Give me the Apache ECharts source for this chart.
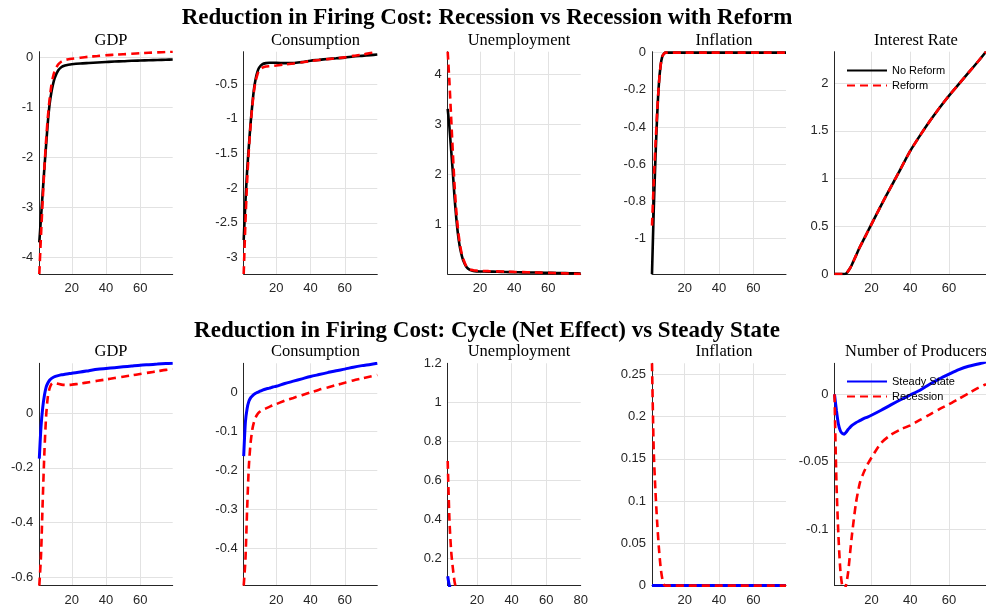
<!DOCTYPE html>
<html>
<head>
<meta charset="utf-8">
<script src="https://cdn.jsdelivr.net/npm/echarts@6/dist/echarts.min.js"></script>
<style>
  html, body { margin: 0; padding: 0; background: #fff; }
  #chart { width: 986px; height: 613px; }
</style>
</head>
<body>
<div id="chart"></div>
<script>
// quarters after the shock
const t = [1, 2, 3, 4, 5, 6, 7, 8, 9, 10, 12, 14, 16, 18, 20, 25, 30, 35, 40, 45, 50, 55, 60, 65, 70, 75, 79];

// top row: recession vs recession with reform
const gdpNoReform = [-3.70, -3.20, -2.70, -2.20, -1.75, -1.30, -0.95, -0.72, -0.55, -0.42, -0.27, -0.20, -0.17, -0.155, -0.145, -0.13, -0.12, -0.11, -0.10, -0.09, -0.085, -0.075, -0.07, -0.065, -0.06, -0.055, -0.05];
const gdpReform = [-4.33, -3.55, -2.85, -2.20, -1.65, -1.20, -0.85, -0.58, -0.40, -0.28, -0.15, -0.09, -0.06, -0.045, -0.035, -0.015, 0.005, 0.02, 0.035, 0.045, 0.055, 0.065, 0.075, 0.085, 0.092, 0.10, 0.106];
const consNoReform = [-2.75, -2.20, -1.75, -1.40, -1.07, -0.80, -0.57, -0.42, -0.32, -0.26, -0.21, -0.195, -0.19, -0.19, -0.19, -0.195, -0.195, -0.18, -0.16, -0.148, -0.135, -0.125, -0.115, -0.10, -0.09, -0.08, -0.07];
const consReform = [-3.24, -2.50, -1.90, -1.45, -1.10, -0.82, -0.60, -0.45, -0.36, -0.30, -0.26, -0.245, -0.24, -0.235, -0.23, -0.215, -0.20, -0.183, -0.165, -0.15, -0.137, -0.125, -0.112, -0.09, -0.072, -0.05, -0.034];
const unempNoReform = [3.31, 2.95, 2.50, 2.05, 1.55, 1.15, 0.82, 0.58, 0.42, 0.30, 0.16, 0.10, 0.08, 0.072, 0.07, 0.068, 0.065, 0.06, 0.056, 0.052, 0.05, 0.047, 0.044, 0.04, 0.037, 0.034, 0.03];
const unempReform = [4.45, 3.85, 3.15, 2.45, 1.80, 1.30, 0.92, 0.65, 0.46, 0.33, 0.17, 0.11, 0.095, 0.088, 0.083, 0.077, 0.072, 0.067, 0.062, 0.057, 0.052, 0.047, 0.042, 0.037, 0.032, 0.026, 0.02];
const inflNoReform = [-1.19, -0.85, -0.57, -0.34, -0.17, -0.07, -0.02, -0.005, 0, 0, 0, 0, 0, 0, 0, 0, 0, 0, 0, 0, 0, 0, 0, 0, 0, 0, 0];
const inflReform = [-0.93, -0.70, -0.50, -0.32, -0.17, -0.07, -0.02, -0.005, 0, 0, 0, 0, 0, 0, 0, 0, 0, 0, 0, 0, 0, 0, 0, 0, 0, 0, 0];
const rateNoReform = [0, 0, 0, 0, 0, 0, 0.005, 0.03, 0.06, 0.10, 0.19, 0.28, 0.36, 0.44, 0.52, 0.72, 0.91, 1.10, 1.29, 1.45, 1.60, 1.74, 1.87, 1.99, 2.11, 2.23, 2.33];
const rateReform = [0, 0, 0, 0, 0, 0, 0.005, 0.03, 0.06, 0.10, 0.19, 0.28, 0.36, 0.44, 0.52, 0.72, 0.91, 1.10, 1.29, 1.45, 1.60, 1.74, 1.87, 1.99, 2.11, 2.23, 2.33];

// bottom row: cycle (net effect) vs steady state
const gdpSteady = [-0.166, -0.05, 0.02, 0.065, 0.095, 0.11, 0.12, 0.126, 0.13, 0.133, 0.137, 0.14, 0.142, 0.144, 0.146, 0.15, 0.155, 0.16, 0.163, 0.166, 0.169, 0.172, 0.175, 0.177, 0.179, 0.181, 0.182];
const gdpRecession = [-0.63, -0.52, -0.32, -0.14, -0.01, 0.06, 0.09, 0.105, 0.11, 0.11, 0.107, 0.104, 0.103, 0.103, 0.104, 0.108, 0.113, 0.118, 0.123, 0.128, 0.133, 0.138, 0.143, 0.148, 0.153, 0.158, 0.161];
const consSteady = [-0.163, -0.075, -0.04, -0.022, -0.013, -0.008, -0.004, -0.001, 0.001, 0.003, 0.007, 0.01, 0.012, 0.015, 0.017, 0.024, 0.03, 0.036, 0.042, 0.047, 0.052, 0.057, 0.061, 0.066, 0.07, 0.073, 0.076];
const consRecession = [-0.496, -0.43, -0.30, -0.19, -0.13, -0.095, -0.075, -0.063, -0.055, -0.05, -0.044, -0.04, -0.036, -0.032, -0.029, -0.02, -0.013, -0.006, 0.001, 0.008, 0.014, 0.02, 0.026, 0.032, 0.037, 0.042, 0.046];
const unempSteady = [0.20, 0.15, 0.11, 0.06, 0.04, 0.03, 0.025, 0.02, 0.018, 0.016, 0.013, 0.011, 0.01, 0.009, 0.008, 0.006, 0.005, 0.004, 0.004, 0.003, 0.003, 0.002, 0.002, 0.002, 0.001, 0.001, 0.001];
const unempRecession = [1.20, 0.93, 0.70, 0.40, 0.24, 0.15, 0.08, 0.045, 0.03, 0.02, 0.012, 0.008, 0.006, 0.005, 0.004, 0.003, 0.003, 0.002, 0.002, 0.002, 0.001, 0.001, 0.001, 0.001, 0.001, 0.001, 0.001];
const inflSteady = [0, 0, 0, 0, 0, 0, 0, 0, 0, 0, 0, 0, 0, 0, 0, 0, 0, 0, 0, 0, 0, 0, 0, 0, 0, 0, 0];
const inflRecession = [0.263, 0.16, 0.112, 0.075, 0.045, 0.022, 0.008, 0.001, 0, 0, 0, 0, 0, 0, 0, 0, 0, 0, 0, 0, 0, 0, 0, 0, 0, 0, 0];
const prodSteady = [0, -0.012, -0.022, -0.027, -0.029, -0.0295, -0.028, -0.026, -0.0245, -0.023, -0.021, -0.0195, -0.018, -0.0168, -0.0155, -0.0118, -0.0078, -0.004, -0.0005, 0.003, 0.0075, 0.0115, 0.015, 0.0183, 0.0208, 0.0225, 0.024];
const prodRecession = [0, -0.065, -0.104, -0.13, -0.142, -0.145, -0.141, -0.132, -0.118, -0.104, -0.081, -0.066, -0.058, -0.052, -0.047, -0.036, -0.03, -0.026, -0.023, -0.019, -0.015, -0.011, -0.0073, -0.0033, 0.0007, 0.0048, 0.0075];

const mainTitles = ['Reduction in Firing Cost: Recession vs Recession with Reform',
                    'Reduction in Firing Cost: Cycle (Net Effect) vs Steady State'];
const topNames = ['No Reform', 'Reform'];
const bottomNames = ['Steady State', 'Recession'];

// y range [min, max, step], x range [min, max]
const panels = [
  { title: 'GDP', row: 0, col: 0, y: [-4.33, 0.106, 1], x: [1, 79], lines: [gdpNoReform, gdpReform] },
  { title: 'Consumption', row: 0, col: 1, y: [-3.24, -0.03, 0.5], x: [1, 79], lines: [consNoReform, consReform] },
  { title: 'Unemployment', row: 0, col: 2, y: [0.02, 4.45, 1], x: [1, 79], lines: [unempNoReform, unempReform] },
  { title: 'Inflation', row: 0, col: 3, y: [-1.19, 0.005, 0.2], x: [1, 79], lines: [inflNoReform, inflReform] },
  { title: 'Interest Rate', row: 0, col: 4, y: [0, 2.33, 0.5], x: [1, 79], lines: [rateNoReform, rateReform] },
  { title: 'GDP', row: 1, col: 0, y: [-0.63, 0.182, 0.2], x: [1, 79], lines: [gdpSteady, gdpRecession] },
  { title: 'Consumption', row: 1, col: 1, y: [-0.496, 0.076, 0.1], x: [1, 79], lines: [consSteady, consRecession] },
  { title: 'Unemployment', row: 1, col: 2, y: [0.062, 1.2, 0.2], x: [3, 80], lines: [unempSteady, unempRecession] },
  { title: 'Inflation', row: 1, col: 3, y: [0, 0.263, 0.05], x: [1, 79], lines: [inflSteady, inflRecession] },
  { title: 'Number of Producers', row: 1, col: 4, y: [-0.1417, 0.023, 0.05], x: [1, 79], lines: [prodSteady, prodRecession] }
];

const colLeft = [39.3, 243.7, 447.7, 652, 834.5];
const colWidth = [133.4, 133.6, 133, 134, 154];
const titleCenter = [106, 310.5, 514, 719, 911];
const rowTop = [51.7, 363.3];
const rowHeight = 222.3;

const lineStyles = {
  'No Reform': { color: '#000000', width: 2.6, type: 'solid' },
  'Reform': { color: '#ff0000', width: 2.6, type: [8, 5] },
  'Steady State': { color: '#0000ff', width: 3, type: 'solid' },
  'Recession': { color: '#ff0000', width: 2.6, type: [8, 5] }
};

const labelFont = { fontFamily: 'Liberation Sans', fontSize: 13, color: '#262626' };

function onTick(v, step) {
  const r = v / step;
  return Math.abs(r - Math.round(r)) < 1e-9;
}

const grid = [], xAxis = [], yAxis = [], series = [];
const title = [
  { text: mainTitles[0], left: 482, top: 2, textAlign: 'center',
    textStyle: { fontFamily: 'Liberation Serif', fontWeight: 'bold', fontSize: 23, color: '#000' } },
  { text: mainTitles[1], left: 482, top: 315, textAlign: 'center',
    textStyle: { fontFamily: 'Liberation Serif', fontWeight: 'bold', fontSize: 23, color: '#000' } }
];

panels.forEach((p, i) => {
  const left = colLeft[p.col], width = colWidth[p.col], top = rowTop[p.row];
  grid.push({ left: left, top: top, width: width, height: rowHeight });
  title.push({
    text: p.title, left: titleCenter[p.col], top: top - 25, textAlign: 'center',
    textStyle: { fontFamily: 'Liberation Serif', fontWeight: 'normal', fontSize: 16.5, color: '#000' }
  });
  xAxis.push({
    type: 'value', gridIndex: i, min: p.x[0], max: p.x[1],
    minInterval: 20, maxInterval: 20,
    axisLine: { show: true, onZero: false, lineStyle: { color: '#262626', width: 1 } },
    axisTick: { show: false },
    axisLabel: Object.assign({ margin: 8, showMinLabel: onTick(p.x[0], 20), showMaxLabel: onTick(p.x[1], 20) }, labelFont),
    splitLine: { show: true, showMinLine: false, showMaxLine: false, lineStyle: { color: '#e2e2e2', width: 1 } }
  });
  yAxis.push({
    type: 'value', gridIndex: i, min: p.y[0], max: p.y[1],
    minInterval: p.y[2], maxInterval: p.y[2],
    axisLine: { show: true, onZero: false, lineStyle: { color: '#262626', width: 1 } },
    axisTick: { show: false },
    axisLabel: Object.assign({ margin: 6, showMinLabel: onTick(p.y[0], p.y[2]), showMaxLabel: onTick(p.y[1], p.y[2]) }, labelFont),
    splitLine: { show: true, showMinLine: false, showMaxLine: false, lineStyle: { color: '#e2e2e2', width: 1 } }
  });
  const names = p.row === 0 ? topNames : bottomNames;
  p.lines.forEach((ys, k) => {
    // points left of the axis start are not part of this panel
    const pts = t.map((x, j) => [x, ys[j]]).filter(d => d[0] >= p.x[0]);
    series.push({
      name: names[k], type: 'line', xAxisIndex: i, yAxisIndex: i,
      data: pts,
      symbol: 'none', smooth: 0.25, clip: true, animation: false,
      lineStyle: lineStyles[names[k]],
      itemStyle: { color: lineStyles[names[k]].color },
      z: 2 + k
    });
  });
});

const legendText = { fontFamily: 'Liberation Sans', fontSize: 11, color: '#000' };
const legendBase = {
  orient: 'vertical', left: 846, itemWidth: 40, itemHeight: 12, itemGap: 4,
  selectedMode: false, textStyle: legendText, padding: 0,
  itemStyle: { opacity: 0 }
};
const legend = [
  Object.assign({ data: topNames, top: 65 }, legendBase),
  Object.assign({ data: bottomNames, top: 376 }, legendBase)
];

const chart = echarts.init(document.getElementById('chart'));
chart.setOption({
  backgroundColor: '#fff',
  animation: false,
  title: title,
  legend: legend,
  grid: grid,
  xAxis: xAxis,
  yAxis: yAxis,
  series: series
});
</script>
</body>
</html>
